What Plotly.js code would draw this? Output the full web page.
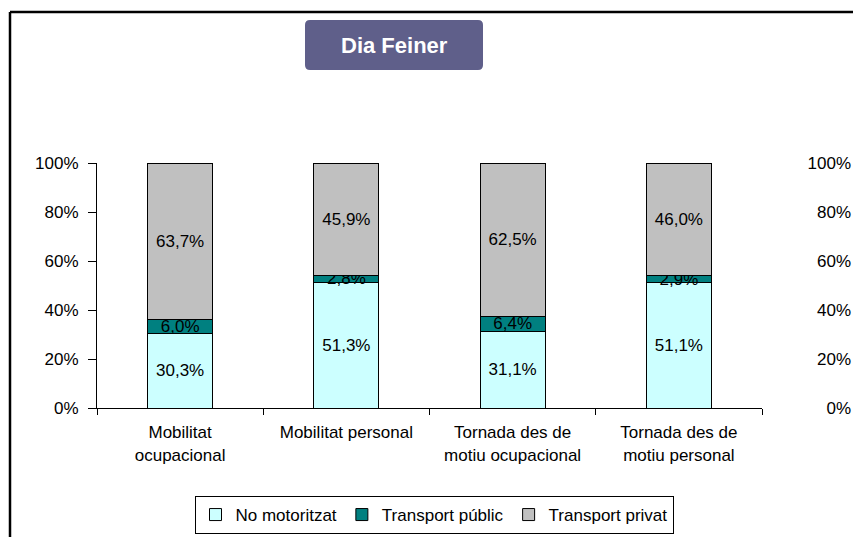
<!DOCTYPE html>
<html><head><meta charset="utf-8">
<script src="https://cdn.plot.ly/plotly-3.0.1.min.js"></script>
<style>html,body{margin:0;padding:0;background:#fff}#chart{width:853px;height:537px}</style>
</head><body><div id="chart"></div>
<script>
const categories = ["Mobilitat<br>ocupacional", "Mobilitat personal", "Tornada des de<br>motiu ocupacional", "Tornada des de<br>motiu personal"];
const noMotoritzat = [30.3, 51.3, 31.1, 51.1];
const transportPublic = [6.0, 2.8, 6.4, 2.9];
const transportPrivat = [63.7, 45.9, 62.5, 46.0];
const seriesNames = ["No motoritzat", "Transport públic", "Transport privat"];
const seriesColors = ["#ccffff", "#008080", "#c0c0c0"];
const yTickVals = [0, 20, 40, 60, 80, 100];
const yTickText = ["0%", "20%", "40%", "60%", "80%", "100%"];
const chartTitle = "Dia Feiner";

const FONT = "Liberation Sans, Arial, sans-serif";
const seriesValues = [noMotoritzat, transportPublic, transportPrivat];

const traces = seriesValues.map((vals, i) => ({
  type: "bar",
  name: seriesNames[i],
  x: categories,
  y: vals,
  marker: {color: seriesColors[i], line: {color: "#000", width: 1}},
  texttemplate: "%{y:.1f}%",
  textposition: "inside",
  insidetextanchor: "middle",
  constraintext: "none",
  textfont: {family: FONT, size: 17, color: "#000"},
  hoverinfo: "skip"
}));
traces.push({type: "scatter", x: [], y: [], yaxis: "y2", showlegend: false, hoverinfo: "skip"});

const W = 853, L = 97, R = 2, T = 163, B = 129;
const pw = W - L - R, ph = 537 - T - B;
const px2x = p => (p - L) / pw;
const py2y = p => (537 - B - p) / ph;

const layout = {
  width: 853, height: 537,
  margin: {l: L, r: R, t: T, b: B, pad: 0},
  paper_bgcolor: "#fff", plot_bgcolor: "#fff",
  separators: ",.",
  barmode: "stack",
  bargap: 0.61,
  showlegend: true,
  font: {family: FONT, size: 16, color: "#000"},
  xaxis: {
    domain: [0, px2x(762)],
    type: "category",
    showline: true, linecolor: "#000", linewidth: 1,
    ticks: "outside", tickson: "boundaries", ticklen: 6, tickcolor: "#000",
    ticklabelstandoff: 9,
    tickfont: {family: FONT, size: 17, color: "#000"},
    showgrid: false, zeroline: false, fixedrange: true
  },
  yaxis: {
    range: [0, 100], autorange: false,
    tickvals: yTickVals, ticktext: yTickText,
    showline: true, linecolor: "#000", linewidth: 1,
    ticks: "outside", ticklen: 8, tickcolor: "#000",
    tickfont: {family: FONT, size: 17, color: "#000"},
    ticklabelstandoff: 6,
    showgrid: false, zeroline: false, fixedrange: true
  },
  yaxis2: {
    overlaying: "y", anchor: "free", position: 1, side: "left",
    range: [0, 100], autorange: false,
    tickvals: yTickVals, ticktext: yTickText,
    ticklabelposition: "outside",
    showline: false, ticks: "", showgrid: false, zeroline: false,
    tickfont: {family: FONT, size: 17, color: "#000"},
    fixedrange: true
  },
  legend: {
    orientation: "h", traceorder: "normal",
    x: px2x(434), xanchor: "center",
    y: py2y(496), yanchor: "top",
    bordercolor: "#000", borderwidth: 1, bgcolor: "#fff",
    font: {family: FONT, size: 17, color: "#000"},
    itemwidth: 30, tracegroupgap: 0
  },
  annotations: [{
    text: "<b>" + chartTitle + "</b>",
    xref: "paper", yref: "paper",
    x: px2x(394), y: py2y(45), xanchor: "center", yanchor: "middle",
    showarrow: false,
    font: {family: FONT, size: 22, color: "#fff"}
  }],
  shapes: [
    {type: "path", xref: "paper", yref: "paper", xsizemode: "pixel", ysizemode: "pixel",
     xanchor: px2x(394), yanchor: py2y(45),
     path: "M -84,-25 L 84,-25 Q 89,-25 89,-20 L 89,20 Q 89,25 84,25 L -84,25 Q -89,25 -89,20 L -89,-20 Q -89,-25 -84,-25 Z",
     fillcolor: "#5f5f8a", line: {width: 0}, layer: "below"},
    {type: "line", xref: "paper", yref: "paper", x0: px2x(10), x1: px2x(10), y0: py2y(560), y1: py2y(12), line: {color: "#000", width: 2.5}},
    {type: "line", xref: "paper", yref: "paper", x0: px2x(10), x1: px2x(880), y0: py2y(12), y1: py2y(12), line: {color: "#000", width: 2.5}}
  ]
};

Plotly.newPlot("chart", traces, layout, {displayModeBar: false, staticPlot: true});
</script>
</body></html>
